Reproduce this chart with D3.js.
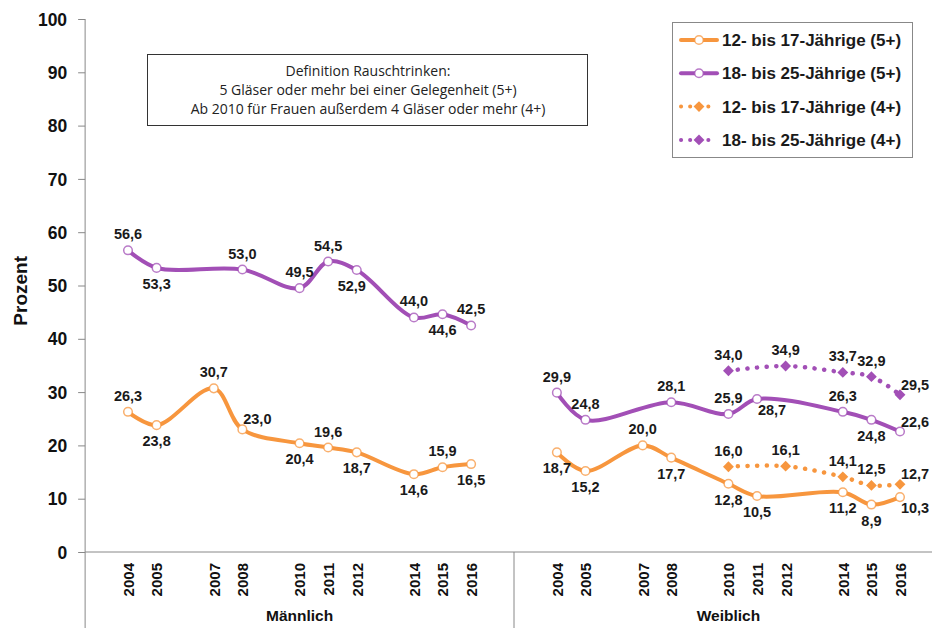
<!DOCTYPE html>
<html>
<head>
<meta charset="utf-8">
<script src="https://cdn.jsdelivr.net/npm/d3@7"></script>
<style>
  body { margin: 0; background: #fff; }
  svg { font-family: Arial, 'Liberation Sans', sans-serif; }
</style>
</head>
<body>
<div id="chart"></div>
<script>
const years = [2004, 2005, 2007, 2008, 2010, 2011, 2012, 2014, 2015, 2016]
const groups = ['Männlich', 'Weiblich']
const yTicks = [0, 10, 20, 30, 40, 50, 60, 70, 80, 90, 100]

// values per year, null = no survey for that series
const male1217five = [26.3, 23.8, 30.7, 23.0, 20.4, 19.6, 18.7, 14.6, 15.9, 16.5]
const male1825five = [56.6, 53.3, null, 53.0, 49.5, 54.5, 52.9, 44.0, 44.6, 42.5]
const female1217five = [18.7, 15.2, 20.0, 17.7, 12.8, 10.5, null, 11.2, 8.9, 10.3]
const female1825five = [29.9, 24.8, null, 28.1, 25.9, 28.7, null, 26.3, 24.8, 22.6]
const female1217four = [null, null, null, null, 16.0, null, 16.1, 14.1, 12.5, 12.7]
const female1825four = [null, null, null, null, 34.0, null, 34.9, 33.7, 32.9, 29.5]

// where each value label sits relative to its point
const male1217side = ['a', 'b', 'a', 'ar', 'b', 'a', 'b', 'b', 'a', 'b']
const male1825side = ['a', 'b', null, 'a', 'a', 'a', 'bl', 'a', 'b', 'a']
const female1217fiveSide = ['b', 'b', 'a', 'b', 'b', 'b', null, 'b', 'b', 'br']
const female1825fiveSide = ['a', 'a', null, 'a', 'a', 'br', null, 'a', 'b', 'ar']
const female1217fourSide = [null, null, null, null, 'a', null, 'a', 'a', 'a', 'ar']
const female1825fourSide = [null, null, null, null, 'a', null, 'a', 'a', 'a', 'ar']

const legendLabels = [
  '12- bis 17-Jährige (5+)',
  '18- bis 25-Jährige (5+)',
  '12- bis 17-Jährige (4+)',
  '18- bis 25-Jährige (4+)'
]
const noteLines = [
  'Definition Rauschtrinken:',
  '5 Gläser oder mehr bei einer Gelegenheit (5+)',
  'Ab 2010 für Frauen außerdem 4 Gläser oder mehr (4+)'
]

const orange = '#f7963e'
const purple = '#a24fb6'
const width = 932
const height = 628

const svg = d3
  .select('#chart')
  .append('svg')
  .attr('width', width)
  .attr('height', height)

// slot scale: each year one slot, groups 15 slots apart
const slot = d3.scaleLinear().domain([0, 27]).range([128, 900])
const xPos = (g, year) => slot(year - 2004 + g * 15)
const y = d3.scaleLinear().domain([0, 100]).range([552, 19])

const axisX = slot(-1.5)

// y axis
const yAxis = svg
  .append('g')
  .attr('transform', `translate(${axisX},0)`)
  .call(d3.axisLeft(y).tickValues(yTicks).tickSize(7).tickPadding(11))
yAxis.select('.domain').remove()
yAxis.selectAll('.tick line').attr('stroke', '#888')
yAxis
  .selectAll('.tick text')
  .style('font-family', 'Arial, sans-serif')
  .style('font-size', '17.5px')
  .attr('font-weight', 'bold')
  .attr('fill', '#111')
  .attr('dy', '0.35em')

svg
  .append('line')
  .attr('x1', axisX).attr('x2', axisX)
  .attr('y1', y(100)).attr('y2', height)
  .attr('stroke', '#888')
svg
  .append('line')
  .attr('x1', axisX).attr('x2', width)
  .attr('y1', y(0)).attr('y2', y(0))
  .attr('stroke', '#888')
svg
  .append('line')
  .attr('x1', slot(13.5)).attr('x2', slot(13.5))
  .attr('y1', y(0)).attr('y2', height)
  .attr('stroke', '#888')

svg
  .append('text')
  .attr('transform', `translate(27,${y(49)}) rotate(-90)`)
  .attr('text-anchor', 'middle')
  .attr('font-size', 19)
  .attr('font-weight', 'bold')
  .attr('fill', '#111')
  .text('Prozent')

// x axes, one per group
groups.forEach((name, g) => {
  const gx = d3
    .scaleLinear()
    .domain([2004, 2016])
    .range([xPos(g, 2004), xPos(g, 2016)])
  const ax = svg
    .append('g')
    .attr('transform', `translate(0,${y(0)})`)
    .call(d3.axisBottom(gx).tickValues(years).tickSize(0).tickFormat(d3.format('d')))
  ax.select('.domain').remove()
  ax
    .selectAll('.tick text')
    .attr('transform', 'rotate(-90)')
    .attr('text-anchor', 'end')
    .attr('x', -11)
    .attr('y', 0)
    .attr('dy', '0.36em')
    .style('font-family', 'Arial, sans-serif')
    .style('font-size', '15px')
    .attr('font-weight', 'bold')
    .attr('fill', '#111')

  svg
    .append('text')
    .attr('x', (gx.range()[0] + gx.range()[1]) / 2)
    .attr('y', 621)
    .attr('text-anchor', 'middle')
    .attr('font-size', 15.5)
    .attr('font-weight', 'bold')
    .attr('fill', '#111')
    .text(name)
})

const series = [
  { g: 0, values: male1217five, side: male1217side, color: orange, dotted: false },
  { g: 0, values: male1825five, side: male1825side, color: purple, dotted: false },
  { g: 1, values: female1217five, side: female1217fiveSide, color: orange, dotted: false },
  { g: 1, values: female1825five, side: female1825fiveSide, color: purple, dotted: false },
  { g: 1, values: female1217four, side: female1217fourSide, color: orange, dotted: true },
  { g: 1, values: female1825four, side: female1825fourSide, color: purple, dotted: true }
]

const line = d3
  .line()
  .x(d => xPos(d.g, d.year))
  .y(d => y(d.value))
  .curve(d3.curveCatmullRom.alpha(0.5))

const offsets = {
  a: [0, -11],
  b: [0, 21],
  ar: [15, -5],
  al: [-12, -11],
  bl: [-5, 21],
  br: [15, 16]
}
const fmt = v => d3.format('.1f')(v).replace('.', ',')
const diamond = d3.symbol().type(d3.symbolDiamond2).size(75)

series.forEach(s => {
  const pts = years
    .map((year, i) => ({ year, value: s.values[i], side: s.side[i], g: s.g }))
    .filter(d => d.value != null)

  svg
    .append('path')
    .datum(pts)
    .attr('d', line)
    .attr('fill', 'none')
    .attr('stroke', s.color)
    .attr('stroke-width', s.dotted ? 4.5 : 4)
    .attr('stroke-linecap', 'round')
    .attr('stroke-dasharray', s.dotted ? '0.1 9.5' : null)

  const marks = svg
    .selectAll(null)
    .data(pts)
    .enter()
    .append('g')
    .attr('transform', d => `translate(${xPos(d.g, d.year)},${y(d.value)})`)

  if (s.dotted) {
    marks.append('path').attr('d', diamond).attr('fill', s.color)
  } else {
    marks
      .append('circle')
      .attr('r', 4.3)
      .attr('fill', '#fff')
      .attr('stroke', s.color)
      .attr('stroke-opacity', 0.75)
      .attr('stroke-width', 1.5)
  }

  marks
    .append('text')
    .attr('x', d => offsets[d.side][0])
    .attr('y', d => offsets[d.side][1])
    .attr('text-anchor', 'middle')
    .attr('font-size', 14.5)
    .attr('font-weight', 'bold')
    .attr('fill', '#1a1a1a')
    .text(d => fmt(d.value))
})

// definition note
const note = svg.append('g')
note
  .append('rect')
  .attr('x', 147.5).attr('y', 54.5)
  .attr('width', 440).attr('height', 71)
  .attr('fill', '#fff')
  .attr('stroke', '#333')
note
  .selectAll(null)
  .data(noteLines)
  .enter()
  .append('text')
  .attr('x', 368)
  .attr('y', (d, i) => 76 + i * 19)
  .attr('text-anchor', 'middle')
  .style('font-family', "'Open Sans', sans-serif")
  .style('font-size', '14px')
  .attr('fill', '#222')
  .text(d => d)

// legend
const legend = svg.append('g')
legend
  .append('rect')
  .attr('x', 672.5).attr('y', 22.5)
  .attr('width', 240).attr('height', 135)
  .attr('fill', '#fff')
  .attr('stroke', '#888')

const legendItems = legend
  .selectAll(null)
  .data(legendLabels)
  .enter()
  .append('g')
  .attr('transform', (d, i) => `translate(0,${40 + i * 33.3})`)

legendItems
  .append('line')
  .attr('x1', 681).attr('x2', 717)
  .attr('stroke', (d, i) => (i % 2 === 0 ? orange : purple))
  .attr('stroke-width', 4)
  .attr('stroke-linecap', 'round')
  .attr('stroke-dasharray', (d, i) => (i > 1 ? '0.1 9' : null))

legendItems.each(function(d, i) {
  const item = d3.select(this)
  const color = i % 2 === 0 ? orange : purple
  if (i > 1) {
    item.append('path').attr('d', diamond).attr('transform', 'translate(699,0)').attr('fill', color)
  } else {
    item
      .append('circle')
      .attr('cx', 699)
      .attr('r', 4.3)
      .attr('fill', '#fff')
      .attr('stroke', color)
      .attr('stroke-opacity', 0.75)
      .attr('stroke-width', 1.5)
  }
})

legendItems
  .append('text')
  .attr('x', 722)
  .attr('dy', '0.36em')
  .attr('font-size', 17)
  .attr('font-weight', 'bold')
  .attr('fill', '#1a1a1a')
  .text(d => d)
</script>
</body>
</html>
